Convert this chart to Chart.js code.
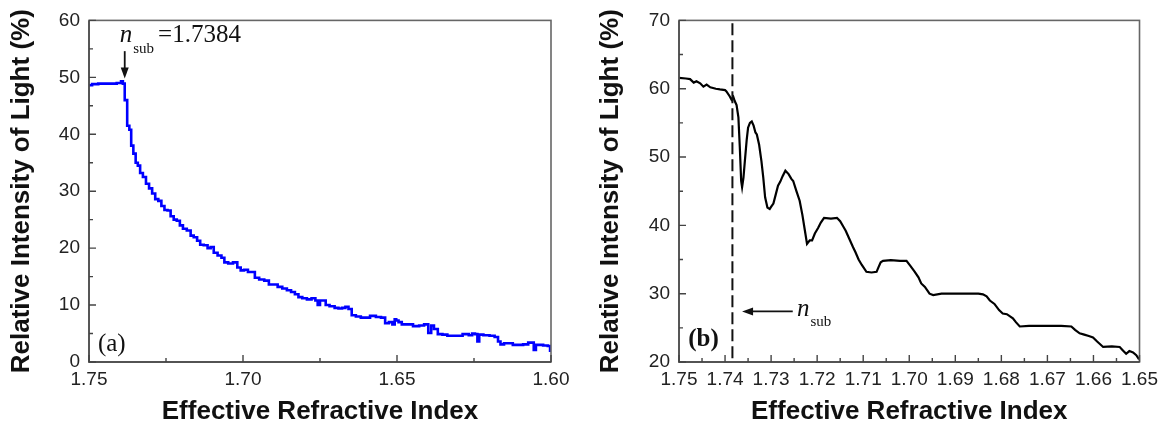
<!DOCTYPE html>
<html>
<head>
<meta charset="utf-8">
<title>Relative intensity vs effective refractive index</title>
<script src="https://cdn.jsdelivr.net/npm/chart.js@4.4.1/dist/chart.umd.min.js"></script>
<style>
  html, body { margin: 0; padding: 0; background: #fff; }
  #wrap { position: relative; width: 1164px; height: 425px; }
  .panel { position: absolute; top: 0; height: 425px; }
  #panelA { left: 0; width: 580px; }
  #panelB { left: 580px; width: 584px; }
</style>
</head>
<body>
<div id="wrap">
  <div class="panel" id="panelA"><canvas id="chartA"></canvas></div>
  <div class="panel" id="panelB"><canvas id="chartB"></canvas></div>
</div>
<script>
const N_SUB = 1.7384;

// panel (a)
const indexA = [1.7500, 1.7480, 1.7460, 1.7420, 1.7400, 1.7392, 1.7388, 1.7380, 1.7372, 1.7366,
  1.7360, 1.7352, 1.7345, 1.7338, 1.7330, 1.7320, 1.7310, 1.7300, 1.7290, 1.7280,
  1.7270, 1.7260, 1.7250, 1.7240, 1.7230, 1.7220, 1.7210, 1.7200, 1.7190, 1.7175,
  1.7165, 1.7155, 1.7143, 1.7135, 1.7120, 1.7110, 1.7100, 1.7090, 1.7075, 1.7065,
  1.7056, 1.7040, 1.7025, 1.7012, 1.7003, 1.6990, 1.6978, 1.6968, 1.6955, 1.6940,
  1.6922, 1.6910, 1.6895, 1.6880, 1.6865, 1.6850, 1.6838, 1.6825, 1.6815, 1.6800,
  1.6785, 1.6770, 1.6760, 1.6755, 1.6745, 1.6735, 1.6728, 1.6710, 1.6695, 1.6685,
  1.6672, 1.6663, 1.6652, 1.6642, 1.6625, 1.6610, 1.6598, 1.6577, 1.6560, 1.6544,
  1.6533, 1.6520, 1.6510, 1.6505, 1.6500, 1.6490, 1.6479, 1.6460, 1.6436, 1.6420,
  1.6404, 1.6393, 1.6385, 1.6375, 1.6360, 1.6345, 1.6328, 1.6300, 1.6274, 1.6260,
  1.6252, 1.6242, 1.6236, 1.6230, 1.6209, 1.6190, 1.6176, 1.6168, 1.6160, 1.6145,
  1.6133, 1.6115, 1.6101, 1.6080, 1.6068, 1.6060, 1.6052, 1.6046, 1.6036, 1.6015,
  1.6006, 1.6000];
const intensityA = [48.6, 48.8, 48.9, 48.9, 49.0, 49.3, 48.9, 46.0, 41.5, 40.8,
  38.0, 36.6, 35.0, 34.5, 33.2, 32.5, 31.3, 30.5, 29.6, 28.6,
  28.3, 27.4, 26.7, 26.6, 25.6, 25.0, 24.8, 24.0, 23.4, 23.1,
  22.2, 21.9, 21.3, 20.6, 20.5, 20.0, 20.2, 19.2, 18.7, 18.3,
  17.5, 17.3, 17.5, 16.6, 16.1, 16.2, 15.8, 15.8, 14.8, 14.5,
  14.3, 13.6, 13.6, 13.2, 12.9, 12.6, 12.3, 11.9, 11.4, 11.2,
  11.0, 11.2, 10.8, 10.0, 10.8, 10.8, 10.0, 9.8, 9.5, 9.4,
  9.5, 9.7, 9.3, 8.2, 8.0, 7.8, 7.8, 8.1, 7.9, 7.8,
  6.8, 7.0, 6.6, 7.5, 7.3, 7.0, 6.6, 6.6, 6.3, 6.4,
  6.6, 5.1, 6.4, 5.8, 4.9, 4.8, 4.6, 4.6, 4.9, 4.7,
  5.0, 4.9, 3.6, 4.8, 4.7, 4.6, 4.4, 3.6, 3.1, 3.3,
  3.3, 3.0, 3.0, 3.1, 3.4, 3.4, 2.1, 3.0, 3.0, 2.9,
  2.8, 2.0];
const xTicksA = [1.75, 1.70, 1.65, 1.60];
const xMinorA = [1.725, 1.675, 1.625];
const yTicksA = [0, 10, 20, 30, 40, 50, 60];
const yMinorA = [5, 15, 25, 35, 45, 55];

// panel (b)
const indexB = [1.7500, 1.7485, 1.7476, 1.7468, 1.7462, 1.7454, 1.7447, 1.7440, 1.7432, 1.7420,
  1.7411, 1.7400, 1.7397, 1.7390, 1.7386, 1.7382, 1.7379, 1.7375, 1.7371, 1.7368,
  1.7365, 1.7363, 1.7360, 1.7357, 1.7353, 1.7350, 1.7346, 1.7342, 1.7338, 1.7334,
  1.7331, 1.7326, 1.7321, 1.7317, 1.7313, 1.7308, 1.7303, 1.7299, 1.7295, 1.7290,
  1.7285, 1.7280, 1.7275, 1.7269, 1.7262, 1.7256, 1.7252, 1.7245, 1.7238, 1.7232,
  1.7227, 1.7222, 1.7216, 1.7211, 1.7205, 1.7198, 1.7192, 1.7185, 1.7170, 1.7157,
  1.7150, 1.7143, 1.7138, 1.7130, 1.7122, 1.7117, 1.7110, 1.7103, 1.7093, 1.7082,
  1.7071, 1.7066, 1.7062, 1.7057, 1.7040, 1.7020, 1.7006, 1.6998, 1.6988, 1.6980,
  1.6974, 1.6966, 1.6956, 1.6948, 1.6930, 1.6900, 1.6870, 1.6850, 1.6840, 1.6832,
  1.6825, 1.6815, 1.6805, 1.6797, 1.6788, 1.6775, 1.6768, 1.6760, 1.6740, 1.6700,
  1.6670, 1.6648, 1.6640, 1.6630, 1.6620, 1.6610, 1.6601, 1.6592, 1.6579, 1.6560,
  1.6543, 1.6536, 1.6529, 1.6522, 1.6514, 1.6507, 1.6501];
const intensityB = [61.6, 61.5, 61.4, 60.9, 61.1, 60.8, 60.3, 60.6, 60.2, 60.0,
  59.9, 59.8, 59.6, 58.9, 58.4, 58.8, 58.2, 57.6, 55.8, 51.5,
  46.5, 45.6, 47.0, 49.4, 52.5, 54.3, 55.0, 55.2, 54.6, 53.6,
  53.3, 51.8, 49.4, 47.0, 44.1, 42.6, 42.4, 42.8, 43.2, 44.5,
  45.8, 46.4, 47.2, 48.0, 47.5, 46.8, 46.5, 45.0, 43.6, 41.5,
  39.4, 37.3, 37.8, 37.8, 38.8, 39.6, 40.4, 41.1, 41.0, 41.1,
  40.6, 39.8, 39.2, 38.0, 36.8, 36.1, 35.0, 34.2, 33.2, 33.1,
  33.2, 34.0, 34.6, 34.8, 34.9, 34.8, 34.8, 34.1, 33.2, 32.4,
  31.5, 31.0, 30.0, 29.8, 30.0, 30.0, 30.0, 30.0, 29.9, 29.6,
  29.0, 28.5, 27.6, 27.1, 27.0, 26.4, 25.8, 25.2, 25.3, 25.3,
  25.3, 25.2, 24.7, 24.2, 24.0, 23.8, 23.6, 23.0, 22.2, 22.3,
  22.2, 21.7, 21.2, 21.6, 21.4, 21.0, 20.4];
const xTicksB = [1.75, 1.74, 1.73, 1.72, 1.71, 1.70, 1.69, 1.68, 1.67, 1.66, 1.65];
const xMinorB = [1.745, 1.735, 1.725, 1.715, 1.705, 1.695, 1.685, 1.675, 1.665, 1.655];
const yTicksB = [20, 30, 40, 50, 60, 70];
const yMinorB = [25, 35, 45, 55, 65];

const SANS = "'Liberation Sans', Arial, sans-serif";
const SERIF = "'Liberation Serif', 'Times New Roman', serif";

function toPoints(xs, ys) {
  return xs.map((x, i) => ({ x: x, y: ys[i] }));
}

// box round the plot plus short ticks pointing inwards
const framePlugin = {
  id: "frame",
  afterDatasetsDraw(chart, args, opts) {
    const ctx = chart.ctx;
    const a = chart.chartArea;
    const xs = chart.scales.x, ys = chart.scales.y;
    ctx.save();
    ctx.strokeStyle = "#666";
    ctx.lineWidth = 1.6;
    ctx.strokeRect(a.left, a.top, a.right - a.left, a.bottom - a.top);
    ctx.strokeStyle = "#444";
    ctx.lineWidth = 1.4;
    ctx.beginPath();
    opts.xMajor.forEach(v => { const p = xs.getPixelForValue(v); ctx.moveTo(p, a.bottom); ctx.lineTo(p, a.bottom - 7); });
    opts.xMinor.forEach(v => { const p = xs.getPixelForValue(v); ctx.moveTo(p, a.bottom); ctx.lineTo(p, a.bottom - 4); });
    opts.yMajor.forEach(v => { const p = ys.getPixelForValue(v); ctx.moveTo(a.left, p); ctx.lineTo(a.left + 7, p); });
    opts.yMinor.forEach(v => { const p = ys.getPixelForValue(v); ctx.moveTo(a.left, p); ctx.lineTo(a.left + 4, p); });
    ctx.stroke();
    ctx.beginPath();
    ctx.moveTo(a.left, a.top); ctx.lineTo(a.left, a.bottom); ctx.lineTo(a.right, a.bottom);
    ctx.stroke();
    ctx.restore();
    if (opts.draw) opts.draw(chart);
  }
};

function axisOptions(xTicks, yTicks, xMin, xMax, yMin, yMax, yWidth, yTitlePad) {
  return {
    x: {
      type: "linear", reverse: true, min: xMin, max: xMax,
      afterBuildTicks: s => { s.ticks = xTicks.map(v => ({ value: v })); },
      afterFit: s => { s.height = 63; },
      grid: { display: false, drawTicks: false },
      border: { display: false },
      ticks: {
        color: "#222", padding: 6, maxRotation: 0, autoSkip: false,
        font: { family: SANS, size: 19 },
        callback: v => Number(v).toFixed(2)
      },
      title: {
        display: true, text: "Effective Refractive Index", color: "#111", padding: 0,
        font: { family: SANS, size: 26, weight: "bold", lineHeight: 1 }
      }
    },
    y: {
      min: yMin, max: yMax,
      afterBuildTicks: s => { s.ticks = yTicks.map(v => ({ value: v })); },
      afterFit: s => { s.width = yWidth; },
      grid: { display: false, drawTicks: false },
      border: { display: false },
      ticks: { color: "#222", padding: 9, font: { family: SANS, size: 19 } },
      title: {
        display: true, text: "Relative Intensity of Light (%)", color: "#111",
        padding: { top: yTitlePad, bottom: 0 },
        font: { family: SANS, size: 26, weight: "bold", lineHeight: 1 }
      }
    }
  };
}

function drawArrowHead(ctx, tx, ty, dx, dy) {
  // dx, dy: unit direction of the arrow
  const len = 11, half = 4;
  ctx.beginPath();
  ctx.moveTo(tx, ty);
  ctx.lineTo(tx - dx * len - dy * half, ty - dy * len + dx * half);
  ctx.lineTo(tx - dx * len + dy * half, ty - dy * len - dx * half);
  ctx.closePath();
  ctx.fill();
}

function notesA(chart) {
  const ctx = chart.ctx, xs = chart.scales.x, ys = chart.scales.y;
  const px = xs.getPixelForValue(N_SUB);
  ctx.save();
  ctx.fillStyle = "#111";
  ctx.strokeStyle = "#111";
  ctx.lineWidth = 1.8;
  // arrow onto the knee of the curve
  const y0 = ys.getPixelForValue(54.6), y1 = ys.getPixelForValue(49.8);
  ctx.beginPath(); ctx.moveTo(px, y0); ctx.lineTo(px, y1 - 8); ctx.stroke();
  drawArrowHead(ctx, px, y1, 0, 1);
  // label
  const base = ys.getPixelForValue(56.2);
  ctx.textBaseline = "alphabetic";
  ctx.font = "italic 25px " + SERIF;
  let x = px - 5;
  ctx.fillText("n", x, base);
  x += ctx.measureText("n").width + 1;
  ctx.font = "15px " + SERIF;
  ctx.fillText("sub", x, base + 11);
  x += ctx.measureText("sub").width + 4;
  ctx.font = "25px " + SERIF;
  ctx.fillText("=1.7384", x, base);
  ctx.fillText("(a)", xs.getPixelForValue(1.7471), ys.getPixelForValue(2.0));
  ctx.restore();
}

function notesB(chart) {
  const ctx = chart.ctx, xs = chart.scales.x, ys = chart.scales.y;
  const px = xs.getPixelForValue(N_SUB);
  ctx.save();
  ctx.strokeStyle = "#111";
  ctx.fillStyle = "#111";
  // dashed line at the substrate index
  ctx.lineWidth = 2;
  ctx.setLineDash([12, 5]);
  ctx.beginPath();
  ctx.moveTo(px, ys.getPixelForValue(69.6));
  ctx.lineTo(px, ys.getPixelForValue(20));
  ctx.stroke();
  ctx.setLineDash([]);
  // arrow pointing at it
  const ay = ys.getPixelForValue(27.4);
  const ax0 = xs.getPixelForValue(1.7253), ax1 = xs.getPixelForValue(1.7363);
  ctx.lineWidth = 1.8;
  ctx.beginPath(); ctx.moveTo(ax0, ay); ctx.lineTo(ax1 + 8, ay); ctx.stroke();
  drawArrowHead(ctx, ax1, ay, -1, 0);
  ctx.textBaseline = "alphabetic";
  let x = xs.getPixelForValue(1.7244);
  ctx.font = "italic 25px " + SERIF;
  ctx.fillText("n", x, ys.getPixelForValue(26.7));
  x += ctx.measureText("n").width + 1;
  ctx.font = "15px " + SERIF;
  ctx.fillText("sub", x, ys.getPixelForValue(25.3));
  ctx.font = "bold 25px " + SERIF;
  ctx.fillText("(b)", xs.getPixelForValue(1.7480), ys.getPixelForValue(22.3));
  ctx.restore();
}

let chartA = new Chart(document.getElementById("chartA"), {
  type: "line",
  data: {
    datasets: [{
      data: toPoints(indexA, intensityA),
      borderColor: "#0000ff",
      borderWidth: 2.6,
      pointRadius: 0,
      stepped: "middle"
    }]
  },
  options: {
    responsive: true,
    maintainAspectRatio: false,
    animation: false,
    layout: { padding: { left: 0, top: 19, right: 29, bottom: 0 } },
    scales: axisOptions(xTicksA, yTicksA, 1.60, 1.75, 0, 60, 89, 9),
    plugins: {
      legend: { display: false },
      tooltip: { enabled: false },
      frame: { xMajor: xTicksA, xMinor: xMinorA, yMajor: yTicksA, yMinor: yMinorA, draw: notesA }
    }
  },
  plugins: [framePlugin]
});

let chartB = new Chart(document.getElementById("chartB"), {
  type: "line",
  data: {
    datasets: [{
      data: toPoints(indexB, intensityB),
      borderColor: "#000",
      borderWidth: 2.2,
      pointRadius: 0,
      tension: 0
    }]
  },
  options: {
    responsive: true,
    maintainAspectRatio: false,
    animation: false,
    layout: { padding: { left: 0, top: 19, right: 24, bottom: 0 } },
    scales: axisOptions(xTicksB, yTicksB, 1.65, 1.75, 20, 70, 99, 18),
    plugins: {
      legend: { display: false },
      tooltip: { enabled: false },
      frame: { xMajor: xTicksB, xMinor: xMinorB, yMajor: yTicksB, yMinor: yMinorB, draw: notesB }
    }
  },
  plugins: [framePlugin]
});
</script>
</body>
</html>
